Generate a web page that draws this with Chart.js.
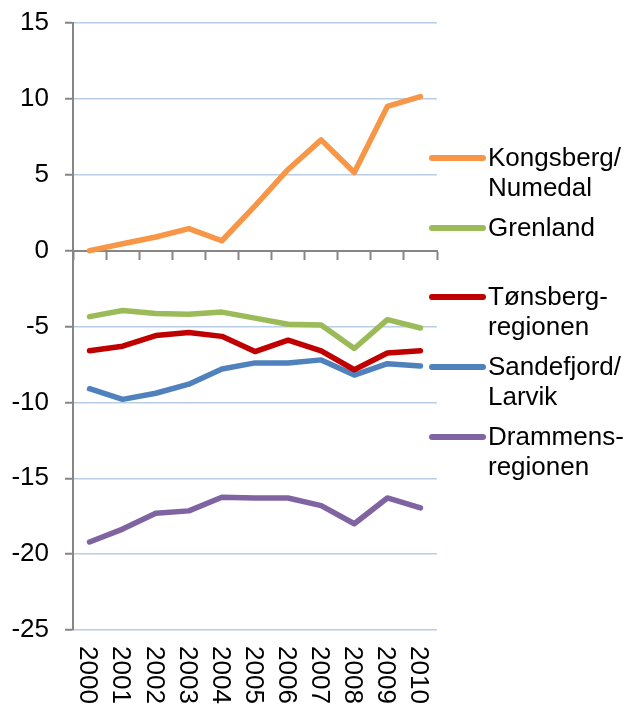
<!DOCTYPE html>
<html>
<head>
<meta charset="utf-8">
<script src="https://cdn.jsdelivr.net/npm/chart.js@4/dist/chart.umd.min.js"></script>
<style>
  html, body { margin: 0; padding: 0; background: #fff; }
  #wrap { width: 628px; height: 704px; }
</style>
</head>
<body>
<div id="wrap"><canvas id="chart" width="628" height="704"></canvas></div>
<script>
const years = ["2000", "2001", "2002", "2003", "2004", "2005", "2006", "2007", "2008", "2009", "2010"];

const kongsberg = [0.0, 0.45, 0.9, 1.45, 0.65, 2.95, 5.35, 7.3, 5.15, 9.5, 10.15];
const grenland = [-4.35, -3.95, -4.15, -4.2, -4.05, -4.45, -4.85, -4.9, -6.45, -4.55, -5.1];
const tonsberg = [-6.6, -6.3, -5.6, -5.4, -5.65, -6.65, -5.9, -6.6, -7.85, -6.75, -6.6];
const sandefjord = [-9.1, -9.8, -9.4, -8.8, -7.8, -7.4, -7.4, -7.2, -8.2, -7.45, -7.6];
const drammen = [-19.2, -18.35, -17.3, -17.15, -16.25, -16.3, -16.3, -16.8, -18.0, -16.3, -16.95];

const yTicks = [-25, -20, -15, -10, -5, 0, 5, 10, 15];

const seriesNames = [["Kongsberg/", "Numedal"], ["Grenland"], ["Tønsberg-", "regionen"], ["Sandefjord/", "Larvik"], ["Drammens-", "regionen"]];
const seriesColors = ["#F79646", "#9BBB59", "#C00000", "#4F81BD", "#8064A2"];
const seriesData = [kongsberg, grenland, tonsberg, sandefjord, drammen];

const FONT = "'Liberation Sans', Arial, sans-serif";
const FONT_SIZE = 26;
const axisGrey = "#868686";

// legend drawn by hand so labels can wrap like the original
const legendPlugin = {
    id: "sideLegend",
    afterDraw(chart) {
        const ctx = chart.ctx;
        const rowsY = [158, 228, 297, 367, 437];
        ctx.save();
        ctx.font = FONT_SIZE + "px " + FONT;
        ctx.textBaseline = "middle";
        ctx.textAlign = "left";
        chart.data.datasets.forEach((ds, i) => {
            const y = rowsY[i];
            ctx.strokeStyle = ds.borderColor;
            ctx.lineWidth = 6;
            ctx.lineCap = "round";
            ctx.beginPath();
            ctx.moveTo(432, y);
            ctx.lineTo(483, y);
            ctx.stroke();
            ctx.fillStyle = "#000";
            seriesNames[i].forEach((line, j) => ctx.fillText(line, 488, y + 1 + j * 30));
        });
        ctx.restore();
    }
};

// year labels sit under the plot, turned clockwise
const yearLabels = {
    id: "yearLabels",
    afterDraw(chart) {
        const ctx = chart.ctx;
        const xs = chart.scales.x;
        const top = chart.chartArea.bottom + 16;
        ctx.save();
        ctx.font = FONT_SIZE + "px " + FONT;
        ctx.fillStyle = "#000";
        ctx.textAlign = "left";
        ctx.textBaseline = "middle";
        years.forEach((yr, i) => {
            ctx.save();
            ctx.translate(xs.getPixelForValue(i) - 2, top);
            ctx.rotate(Math.PI / 2);
            ctx.fillText(yr, 0, 0);
            ctx.restore();
        });
        ctx.restore();
    }
};

const bg = {
    id: "bg",
    beforeDraw(chart) {
        const ctx = chart.ctx;
        ctx.save();
        ctx.fillStyle = "#fff";
        ctx.fillRect(0, 0, chart.width, chart.height);
        ctx.restore();
    }
};

new Chart(document.getElementById("chart"), {
    type: "line",
    data: {
        labels: years,
        datasets: seriesData.map((d, i) => ({
            label: seriesNames[i].join(" "),
            data: d,
            borderColor: seriesColors[i],
            backgroundColor: seriesColors[i],
            borderWidth: 5.5,
            pointRadius: 0,
            tension: 0,
            borderCapStyle: "round",
            borderJoinStyle: "round",
            fill: false
        }))
    },
    options: {
        responsive: false,
        animation: false,
        layout: { padding: { left: 0, top: 23, right: 191, bottom: 74 } },
        plugins: { legend: { display: false }, tooltip: { enabled: false } },
        scales: {
            x: {
                type: "category",
                position: { y: 0 },
                offset: true,
                grid: {
                    offset: true,
                    drawOnChartArea: false,
                    drawTicks: true,
                    tickLength: 8,
                    tickColor: axisGrey,
                    tickWidth: 2
                },
                border: { display: true, color: axisGrey, width: 2 },
                ticks: { display: false }
            },
            y: {
                min: -25,
                max: 15,
                afterBuildTicks: (scale) => { scale.ticks = yTicks.map(v => ({ value: v })); },
                afterFit: (scale) => {
                    scale.width = 73;
                    scale.paddingTop = 0;
                    scale.paddingBottom = 0;
                },
                grid: {
                    color: (c) => c.tick && c.tick.value === 0 ? "rgba(0,0,0,0)" : "#B9CDE5",
                    lineWidth: 1.5,
                    tickLength: 8,
                    tickColor: axisGrey,
                    tickWidth: 2
                },
                border: { display: true, color: axisGrey, width: 2 },
                ticks: {
                    padding: 16,
                    color: "#000",
                    font: { family: FONT, size: FONT_SIZE },
                    callback: (v) => String(v)
                }
            }
        }
    },
    plugins: [bg, legendPlugin, yearLabels]
});
</script>
</body>
</html>
